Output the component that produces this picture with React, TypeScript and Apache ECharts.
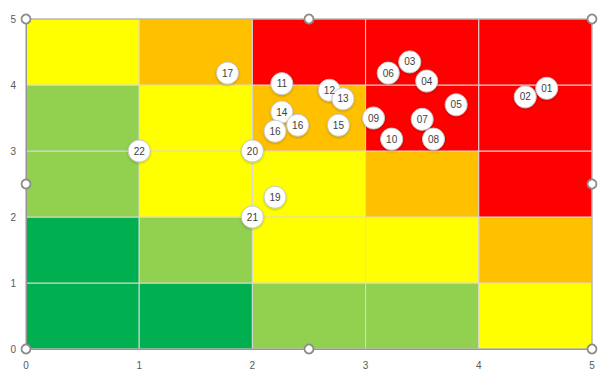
import React, { useEffect, useRef } from "react";
import * as echarts from "echarts";

// Risk matrix cell levels: rows from y=0 (bottom) to y=4 (top), columns x=0..4
const levelColors = ["#00B050", "#92D050", "#FFFF00", "#FFC000", "#FF0000"];
const matrixRows: number[][] = [
  [0, 0, 1, 1, 2], // y 0-1
  [0, 1, 2, 2, 3], // y 1-2
  [1, 2, 2, 3, 4], // y 2-3
  [1, 2, 3, 4, 4], // y 3-4
  [2, 3, 4, 4, 4], // y 4-5
];

const pointLabels = ["01", "02", "03", "04", "05", "06", "07", "08", "09", "10", "11", "12", "13", "14", "15", "16", "16", "17", "19", "20", "21", "22"];
const pointX = [4.6, 4.41, 3.39, 3.54, 3.8, 3.2, 3.5, 3.6, 3.07, 3.23, 2.26, 2.68, 2.8, 2.26, 2.76, 2.4, 2.2, 1.78, 2.2, 2.0, 2.0, 1.0];
const pointY = [3.95, 3.82, 4.35, 4.06, 3.7, 4.18, 3.48, 3.18, 3.5, 3.18, 4.02, 3.92, 3.79, 3.59, 3.39, 3.39, 3.3, 4.18, 2.3, 3.0, 2.0, 3.0];

const axisTicks = [0, 1, 2, 3, 4, 5];

export default function App() {
  const ref = useRef<HTMLDivElement>(null);
  useEffect(() => {
    if (!ref.current) return;
    const chart = echarts.init(ref.current, null, { renderer: "svg" });
    const cells: number[][] = [];
    matrixRows.forEach((row, y) => row.forEach((lvl, x) => cells.push([x, y, lvl])));
    const points = pointLabels.map((n, i) => ({ name: n, value: [pointX[i], pointY[i]] }));

    const L = 26, T = 19, R = 592, B = 349;
    const handlePos = [
      [L, T], [(L + R) / 2, T], [R, T],
      [L, (T + B) / 2], [R, (T + B) / 2],
      [L, B], [(L + R) / 2, B], [R, B],
    ];

    chart.setOption({
      animation: false,
      grid: { left: L, top: T, right: 604 - R, bottom: 373 - B },
      xAxis: {
        type: "value",
        min: axisTicks[0],
        max: axisTicks[axisTicks.length - 1],
        interval: 1,
        z: 10,
        axisLine: { show: true, lineStyle: { color: "#868686", width: 1 } },
        axisTick: { show: false },
        splitLine: { show: false },
        axisLabel: { color: "#595959", fontSize: 10, margin: 11, fontFamily: "Liberation Sans, Arial, sans-serif" },
      },
      yAxis: {
        type: "value",
        min: axisTicks[0],
        max: axisTicks[axisTicks.length - 1],
        interval: 1,
        z: 10,
        axisLine: { show: true, lineStyle: { color: "#868686", width: 1 } },
        axisTick: { show: false },
        splitLine: { show: false },
        axisLabel: { color: "#595959", fontSize: 10, margin: 10, fontFamily: "Liberation Sans, Arial, sans-serif" },
      },
      series: [
        {
          type: "custom",
          z: 1,
          data: cells,
          renderItem: (params: any, api: any) => {
            const x = api.value(0), y = api.value(1), lvl = api.value(2);
            const p0 = api.coord([x, y + 1]);
            const p1 = api.coord([x + 1, y]);
            return {
              type: "rect",
              shape: { x: p0[0], y: p0[1], width: p1[0] - p0[0], height: p1[1] - p0[1] },
              style: { fill: levelColors[lvl], stroke: "#d9d9d9", lineWidth: 1 },
            };
          },
        },
        {
          type: "scatter",
          z: 5,
          data: points,
          symbol: "circle",
          symbolSize: 22,
          itemStyle: {
            color: "#ffffff",
            opacity: 1,
            borderColor: "#c8c8c8",
            borderWidth: 1,
            shadowColor: "rgba(0,0,0,0.25)",
            shadowBlur: 2,
            shadowOffsetY: 1,
          },
          label: {
            show: true,
            position: "inside",
            formatter: (p: any) => p.name,
            color: "#404040",
            fontSize: 10,
            fontFamily: "Liberation Sans, Arial, sans-serif",
          },
        },
      ],
      graphic: [
        {
          type: "rect",
          z: 20,
          silent: true,
          shape: { x: L, y: T, width: R - L, height: B - T },
          style: { fill: "none", stroke: "#a6a6a6", lineWidth: 1 },
        },
        ...handlePos.map((p) => ({
          type: "circle",
          z: 30,
          silent: true,
          shape: { cx: p[0], cy: p[1], r: 4.5 },
          style: { fill: "#ffffff", stroke: "#8c8c8c", lineWidth: 1.8 },
        })),
      ],
    });
    return () => chart.dispose();
  }, []);
  return <div ref={ref} style={{ width: 604, height: 373, position: "absolute", left: 0, top: 0 }} />;
}
